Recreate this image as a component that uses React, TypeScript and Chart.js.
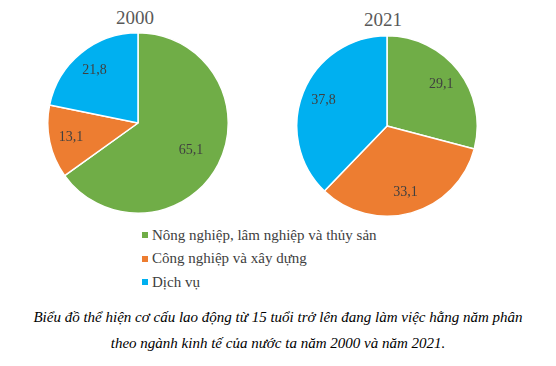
import React, { useEffect, useRef, useState } from "react";
import { Chart, registerables } from "chart.js";

Chart.register(...registerables);

const categories = ["Nông nghiệp, lâm nghiệp và thủy sản", "Công nghiệp và xây dựng", "Dịch vụ"];
const years = ["2000", "2021"];
const values2000 = [65.1, 13.1, 21.8];
const values2021 = [29.1, 33.1, 37.8];
const colors = ["#70AD47", "#ED7D31", "#00B0F0"];
const captionLines = [
  "Biểu đồ thể hiện cơ cấu lao động từ 15 tuổi trở lên đang làm việc hằng năm phân",
  "theo ngành kinh tế của nước ta năm 2000 và năm 2021.",
];

const SERIF = "'Liberation Serif', serif";

const fmt = (v: number) => v.toFixed(1).replace(".", ",");

const labelPlugin = {
  id: "sliceLabels",
  afterDatasetsDraw(chart: any) {
    const ctx = chart.ctx;
    const meta = chart.getDatasetMeta(0);
    const data = chart.data.datasets[0].data as number[];
    ctx.save();
    ctx.font = "14px 'Liberation Serif', serif";
    ctx.fillStyle = "#404040";
    ctx.textAlign = "center";
    ctx.textBaseline = "middle";
    meta.data.forEach((arc: any, i: number) => {
      const { x, y, startAngle, endAngle, outerRadius } = arc.getProps(
        ["x", "y", "startAngle", "endAngle", "outerRadius"],
        true
      );
      const mid = (startAngle + endAngle) / 2;
      const frac = data[i] > 50 ? 0.66 : 0.76;
      const r = outerRadius * frac;
      ctx.fillText(fmt(data[i]), x + Math.cos(mid) * r, y + Math.sin(mid) * r);
    });
    ctx.restore();
  },
};

function Pie({ values, left, top, size, ready }: { values: number[]; left: number; top: number; size: number; ready: boolean }) {
  const ref = useRef<HTMLCanvasElement | null>(null);
  useEffect(() => {
    if (!ref.current || !ready) return;
    const chart = new Chart(ref.current, {
      type: "pie",
      data: {
        labels: categories,
        datasets: [
          {
            data: values,
            backgroundColor: colors,
            borderColor: "#ffffff",
            borderWidth: 1.5,
          },
        ],
      },
      options: {
        responsive: false,
        maintainAspectRatio: false,
        animation: false,
        events: [],
        layout: { padding: 0 },
        plugins: { legend: { display: false }, tooltip: { enabled: false }, title: { display: false } },
      },
      plugins: [labelPlugin],
    });
    return () => chart.destroy();
  }, [values, ready]);
  return (
    <canvas
      ref={ref}
      width={size}
      height={size}
      style={{ position: "absolute", left, top, width: size, height: size }}
    />
  );
}

export default function App() {
  const [ready, setReady] = useState(false);
  useEffect(() => {
    let alive = true;
    const fonts: any = (document as any).fonts;
    if (fonts && fonts.load) {
      Promise.all([
        fonts.load("14px 'Liberation Serif'"),
        fonts.load("italic 15px 'Liberation Serif'"),
      ])
        .catch(() => null)
        .then(() => alive && setReady(true));
    } else {
      setReady(true);
    }
    return () => {
      alive = false;
    };
  }, []);
  return (
    <div
      style={{
        position: "absolute",
        left: 0,
        top: 0,
        width: 556,
        height: 366,
        background: "#ffffff",
        fontFamily: SERIF,
        overflow: "hidden",
      }}
    >
      <div style={{ position: "absolute", left: 95, top: 6, width: 80, textAlign: "center", fontSize: 19, color: "#595959", lineHeight: "24px", fontFamily: SERIF }}>
        {years[0]}
      </div>
      <div style={{ position: "absolute", left: 343, top: 8, width: 80, textAlign: "center", fontSize: 19, color: "#595959", lineHeight: "24px", fontFamily: SERIF }}>
        {years[1]}
      </div>
      <Pie values={values2000} left={47} top={32} size={182} ready={ready} />
      <Pie values={values2021} left={296} top={35} size={182} ready={ready} />
      {categories.map((c, i) => (
        <div
          key={c}
          style={{
            position: "absolute",
            left: 142,
            top: 225 + i * 23.5,
            height: 20,
            display: "flex",
            alignItems: "center",
            fontSize: 15,
            color: "#404040",
            whiteSpace: "nowrap",
            fontFamily: SERIF,
          }}
        >
          <span style={{ display: "inline-block", width: 6, height: 6, background: colors[i], marginRight: 4 }} />
          {c}
        </div>
      ))}
      {captionLines.map((l, i) => (
        <div
          key={i}
          style={{
            position: "absolute",
            left: 0,
            width: 556,
            top: 307 + i * 26,
            textAlign: "center",
            fontStyle: "italic",
            fontSize: 15,
            color: "#000000",
            lineHeight: "20px",
            whiteSpace: "nowrap",
            fontFamily: SERIF,
          }}
        >
          {l}
        </div>
      ))}
    </div>
  );
}
